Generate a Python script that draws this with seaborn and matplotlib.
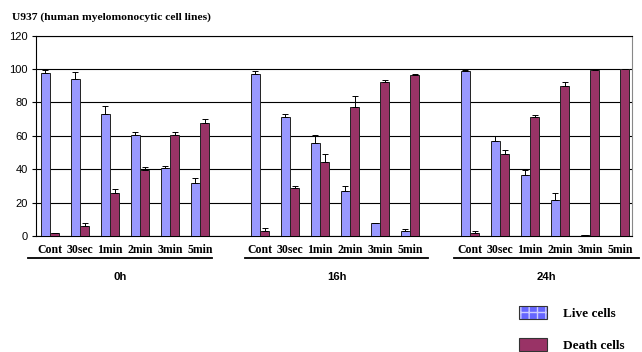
import matplotlib
matplotlib.use('Agg')
import matplotlib.pyplot as plt
from matplotlib.patches import Patch
from matplotlib.legend_handler import HandlerTuple
import seaborn as sns
import pandas as pd
import numpy as np

groups = ['0h', '16h', '24h']
treatments = ['Cont', '30sec', '1min', '2min', '3min', '5min']

live_0h = [97.5, 94, 73, 60.5, 40.5, 32]
live_16h = [97, 71.5, 55.5, 27, 7.5, 3]
live_24h = [98.5, 57, 36.5, 21.5, 0.5, 0]
death_0h = [1.5, 6, 25.5, 39.5, 60.5, 67.5]
death_16h = [3, 28.5, 44.5, 77.5, 92, 96.5]
death_24h = [2, 49, 71, 89.5, 99.5, 100]

live_err_0h = [2, 4, 5, 1.5, 1.2, 2.5]
live_err_16h = [2, 1.5, 5, 3, 0.5, 1]
live_err_24h = [1, 3, 3, 4.5, 0.3, 0]
death_err_0h = [0.5, 1.5, 2.5, 1.5, 2, 2.5]
death_err_16h = [2, 1.5, 4.5, 6.5, 1.2, 0.6]
death_err_24h = [0.8, 2.5, 1.2, 2.5, 0.3, 0.2]

live = [live_0h, live_16h, live_24h]
death = [death_0h, death_16h, death_24h]
live_err = [live_err_0h, live_err_16h, live_err_24h]
death_err = [death_err_0h, death_err_16h, death_err_24h]

rows = []
order = []
for gi, g in enumerate(groups):
    for ti, t in enumerate(treatments):
        slot = f'{g} {t}'
        order.append(slot)
        rows.append({'slot': slot, 'cells': 'Live cells', 'pct': live[gi][ti], 'err': live_err[gi][ti]})
        rows.append({'slot': slot, 'cells': 'Death cells', 'pct': death[gi][ti], 'err': death_err[gi][ti]})
    if gi < len(groups) - 1:
        order.append(' ' * (gi + 1))
df = pd.DataFrame(rows)

live_col = '#9999FF'
death_col = '#993366'

fig = plt.figure(figsize=(6.42, 3.52), dpi=100)
ax = fig.add_axes([36 / 642, 1 - 236 / 352, (632 - 36) / 642, (236 - 35.5) / 352])

sns.barplot(data=df, x='slot', y='pct', hue='cells', order=order,
            hue_order=['Live cells', 'Death cells'],
            palette=[live_col, death_col], width=0.62, errorbar=None,
            edgecolor='#222222', linewidth=0.7, saturation=1, legend=False,
            ax=ax, zorder=3)

# plus-only error bars on top of each bar
for cont, name in zip(ax.containers, ['Live cells', 'Death cells']):
    sub = df[df['cells'] == name]
    for patch, e in zip(cont.patches, sub['err']):
        x = patch.get_x() + patch.get_width() / 2
        ax.errorbar(x, patch.get_height(), yerr=[[0], [e]], fmt='none',
                    ecolor='black', elinewidth=0.7, capsize=2, capthick=0.7, zorder=4)

ax.set_ylim(0, 120)
ax.set_yticks(range(0, 121, 20))
ax.set_xlim(-0.467, 19.4)
ax.grid(axis='y', color='black', linewidth=0.8, zorder=0)
ax.set_axisbelow(True)
for s in ['left', 'bottom', 'top']:
    ax.spines[s].set_color('black')
    ax.spines[s].set_linewidth(0.8)
ax.spines['right'].set_color('#888888')
ax.spines['right'].set_linewidth(0.8)

labels = [s.split(' ')[1] if s.strip() else '' for s in order]
ax.set_xticks(range(len(order)))
ax.set_xticklabels(labels, fontfamily='Liberation Serif', fontweight='bold', fontsize=8.5)
ax.tick_params(axis='x', length=0, pad=6)
ax.tick_params(axis='y', length=3, width=0.8, labelsize=8, pad=3)
for lab in ax.get_yticklabels():
    lab.set_fontfamily('Liberation Sans')
ax.set_xlabel('')
ax.set_ylabel('')

# group underline and label
trans = ax.get_xaxis_transform()
spans = [(-0.72, 5.4), (6.5, 12.6), (13.47, 19.63)]
for g, (x0, x1) in zip(groups, spans):
    ax.plot([x0, x1], [-0.111, -0.111], transform=trans, color='black',
            linewidth=1.3, clip_on=False)
    ax.text((x0 + x1) / 2, -0.203, g, transform=trans, ha='center', va='center',
            fontfamily='Liberation Sans', fontweight='bold', fontsize=8.2)

fig.text(12 / 642, 1 - 17 / 352, 'U937 (human myelomonocytic cell lines)',
         fontfamily='Liberation Serif', fontweight='bold', fontsize=8.25, va='center')

h_live_fill = Patch(facecolor='#6666FF', edgecolor='#CCCCFF', hatch='++', linewidth=0)
h_live_edge = Patch(facecolor='none', edgecolor='#333333', linewidth=0.8)
h_death = Patch(facecolor=death_col, edgecolor='#333333', linewidth=0.8)
fig.legend(handles=[(h_live_fill, h_live_edge), h_death],
           labels=['Live cells', 'Death cells'],
           handler_map={tuple: HandlerTuple(ndivide=1)},
           loc='upper left', bbox_to_anchor=(519 / 642, 1 - 306 / 352),
           frameon=False, borderpad=0, borderaxespad=0,
           handlelength=2.1, handleheight=1.1, handletextpad=1.2, labelspacing=1.4,
           prop={'family': 'Liberation Serif', 'weight': 'bold', 'size': 9.5})

fig.savefig('out.png', dpi=100)
